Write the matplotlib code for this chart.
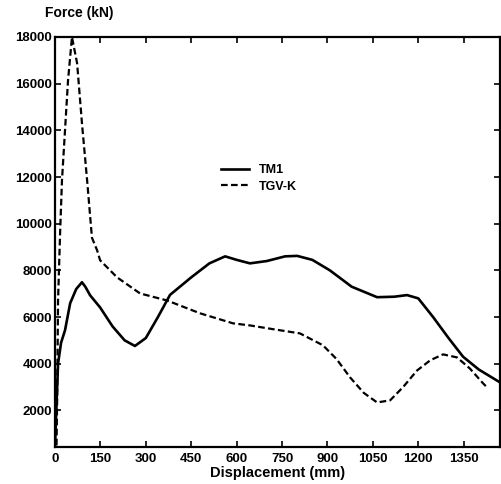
import matplotlib
matplotlib.use("Agg")
import matplotlib.pyplot as plt

# values
tm1_disp = [0, 3, 10, 20, 33, 50, 70, 89, 100, 116, 149, 190, 230, 264, 300, 340,
            380, 450, 510, 562, 600, 644, 700, 760, 800, 850, 908, 980, 1064,
            1120, 1163, 1200, 1249, 1300, 1348, 1400, 1470]
tm1_force = [430, 1570, 4000, 4900, 5430, 6590, 7200, 7490, 7300, 6930, 6410, 5600,
             5000, 4760, 5100, 6000, 6950, 7700, 8300, 8600, 8450, 8300, 8400, 8600,
             8620, 8450, 8000, 7300, 6850, 6870, 6940, 6800, 6000, 5100, 4300,
             3750, 3200]

tgv_disp = [5, 7, 10, 17, 23, 33, 43, 56, 73, 89, 106, 122, 139, 149, 205, 281,
            370, 479, 588, 644, 720, 809, 885, 930, 975, 1020, 1064, 1107, 1150,
            1196, 1240, 1282, 1328, 1370, 1414, 1427]
tgv_force = [500, 2430, 6700, 9700, 11860, 14000, 16140, 18000, 16870, 14300,
             11860, 9400, 8860, 8430, 7700, 7010, 6710, 6160, 5730, 5640, 5480,
             5300, 4790, 4200, 3410, 2750, 2340, 2430, 3000, 3710, 4150, 4400,
             4270, 3800, 3160, 2990]

x_ticks = [0, 150, 300, 450, 600, 750, 900, 1050, 1200, 1350]
y_ticks = [2000, 4000, 6000, 8000, 10000, 12000, 14000, 16000, 18000]

plt.rcParams["font.family"] = ["Liberation Sans", "DejaVu Sans"]
plt.rcParams["font.weight"] = "bold"

fig = plt.figure(figsize=(5.02, 4.84), dpi=100)
ax = fig.add_axes([0.1096, 0.0764, 0.8864, 0.8472])

ax.plot(tm1_disp, tm1_force, color="black", lw=1.9, label="TM1")
ax.plot(tgv_disp, tgv_force, color="black", lw=1.6, ls=(0, (3, 1.5)), label="TGV-K")

ax.set_xlim(0, 1470)
ax.set_ylim(430, 18000)
ax.set_xticks(x_ticks)
ax.set_yticks(y_ticks)
ax.tick_params(direction="in", top=True, right=True, length=4, width=1.2,
               labelsize=9.5, pad=2)
ax.tick_params(axis="x", pad=4)
for s in ax.spines.values():
    s.set_linewidth(1.6)

ax.set_xlabel("Displacement (mm)", fontsize=10.5, fontweight="bold", labelpad=1)
fig.text(0.09, 0.973, "Force (kN)", fontsize=10, fontweight="bold",
         ha="left", va="center")

ax.legend(loc="upper left", bbox_to_anchor=(0.36, 0.705), frameon=False,
          fontsize=9, handlelength=2.2, handletextpad=0.8, labelspacing=0.35,
          borderpad=0)

fig.savefig("out.png", dpi=100)
